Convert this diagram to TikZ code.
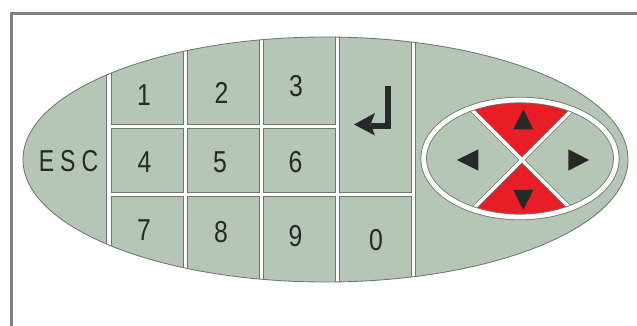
\documentclass[tikz,border=0pt]{standalone}
\usepackage{fontspec}
\setmainfont{Liberation Sans}
\usepackage{tikz}
\usepackage{xcolor}

\definecolor{keygreen}{RGB}{182,198,182}
\definecolor{keyedge}{RGB}{110,118,110}
\definecolor{keyred}{RGB}{232,30,38}
\definecolor{keyink}{RGB}{40,40,40}
\definecolor{framegray}{RGB}{128,128,128}
\newfontfamily\keyfont[FakeStretch=0.82]{Liberation Sans}
\newfontfamily\escfont[FakeStretch=0.76,LetterSpace=20]{Liberation Sans}

\tikzset{
  keycell/.style={fill=keygreen,draw=keyedge,line width=0.6pt},
  keylabel/.style={inner sep=0pt,text=keyink,font=\keyfont\fontsize{21.5}{24}\selectfont},
  padmark/.style={fill=keyink}
}

\begin{document}
\begin{tikzpicture}[x=0.025cm,y=-0.025cm]
\useasboundingbox (0,0) rectangle (637,326);
\clip (0,0) rectangle (637,326);
\fill[white] (0,0) rectangle (637,326);
% frame, only top and left edge show
\draw[framegray,line width=1.9pt] (11.7,340) -- (11.7,13.7) -- (650,13.7);
% keypad body
\begin{scope}
\clip (325.5,159.5) ellipse [x radius=302.5,y radius=122.5];
\fill[white] (0,0) rectangle (637,326);
\filldraw[keycell] (-5,-5) rectangle (106.6,330);
\filldraw[keycell] (111.4,-5) rectangle (183.1,124.1);
\filldraw[keycell] (187.9,-5) rectangle (259.1,124.1);
\filldraw[keycell] (263.9,-5) rectangle (335.1,124.1);
\filldraw[keycell] (111.4,128.9) rectangle (183.1,192.1);
\filldraw[keycell] (187.9,128.9) rectangle (259.1,192.1);
\filldraw[keycell] (263.9,128.9) rectangle (335.1,192.1);
\filldraw[keycell] (111.4,196.9) rectangle (183.1,330);
\filldraw[keycell] (187.9,196.9) rectangle (259.1,330);
\filldraw[keycell] (263.9,196.9) rectangle (335.1,330);
\filldraw[keycell] (339.9,-5) rectangle (411.1,192.1);
\filldraw[keycell] (339.9,196.9) rectangle (411.1,330);
\filldraw[keycell] (415.9,-5) rectangle (645,330);
\end{scope}
\draw[keyedge,line width=0.6pt] (325.5,159.5) ellipse [x radius=302.5,y radius=122.5];
% labels
\node[keylabel] (esc) at (68.5,161.5) {\escfont ESC};
\node[keylabel] (k1) at (144,95.5) {1};
\node[keylabel] (k2) at (221.5,93) {2};
\node[keylabel] (k3) at (296,86) {3};
\node[keylabel] (k4) at (144.5,162.5) {4};
\node[keylabel] (k5) at (220,162.5) {5};
\node[keylabel] (k6) at (295.5,162.5) {6};
\node[keylabel] (k7) at (144,230) {7};
\node[keylabel] (k8) at (221,232.5) {8};
\node[keylabel] (k9) at (295.5,236.5) {9};
\node[keylabel] (k0) at (376,240) {0};
% enter
\draw[keyink,line width=4.2pt] (388,86) -- (388,126) -- (371,126);
\fill[keyink] (354,124.5) -- (375,113) -- (370.5,124.5) -- (375,135.5) -- cycle;
% arrow pad
\begin{scope}
\clip (520,158.5) ellipse [x radius=96.3,y radius=58.5];
\fill[keyred] (522,160) -- (422,60) -- (622,60) -- cycle;
\fill[keyred] (522,160) -- (422,260) -- (622,260) -- cycle;
\draw[keyedge,line width=3.3pt] (452,90) -- (592,230);
\draw[keyedge,line width=3.3pt] (452,230) -- (592,90);
\draw[white,line width=2.5pt] (452,90) -- (592,230);
\draw[white,line width=2.5pt] (452,230) -- (592,90);
\end{scope}
\draw[keyedge,line width=4.6pt] (520,158.5) ellipse [x radius=96.3,y radius=58.5];
\draw[white,line width=3.4pt] (520,158.5) ellipse [x radius=96.3,y radius=58.5];
\fill[padmark] (523.3,109.3) -- (513.3,129.3) -- (533.3,129.3) -- cycle;
\fill[padmark] (513.3,190) -- (533.3,190) -- (523.3,210) -- cycle;
\fill[padmark] (457,160) -- (478.3,149.3) -- (478.3,170.7) -- cycle;
\fill[padmark] (589,160) -- (568.3,149.3) -- (568.3,170.7) -- cycle;
\end{tikzpicture}
\end{document}
